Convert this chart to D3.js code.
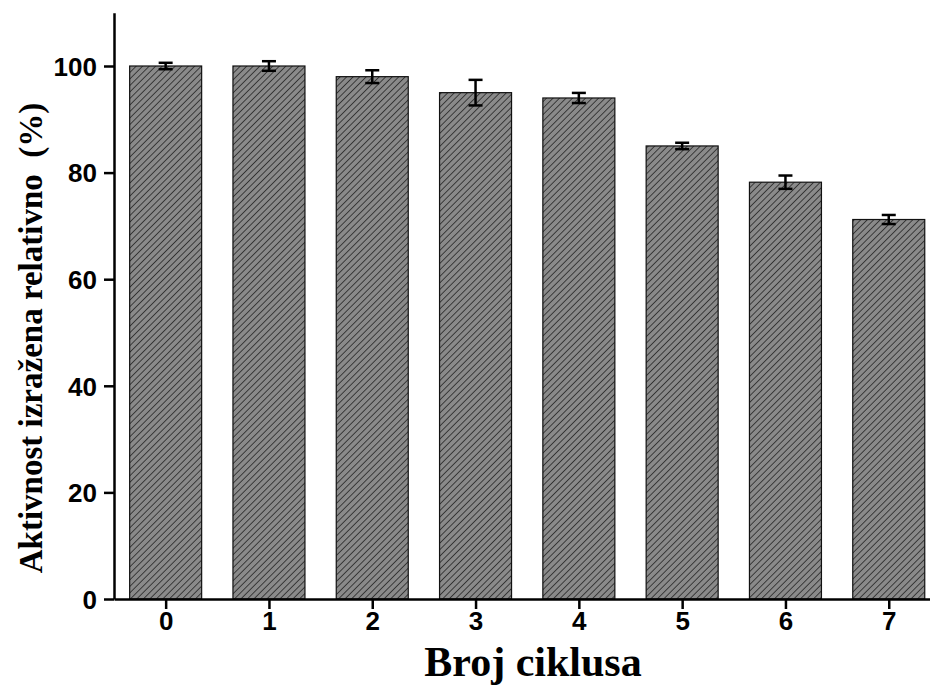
<!DOCTYPE html>
<html>
<head>
<meta charset="utf-8">
<script src="https://cdn.jsdelivr.net/npm/d3@7"></script>
<style>
  html, body { margin: 0; padding: 0; background: #fff; overflow: hidden; }
  svg { display: block; }
</style>
</head>
<body>
<svg id="chart" width="930" height="687"></svg>
<script>
// Relative activity over repeated cycles
const cycles = [0, 1, 2, 3, 4, 5, 6, 7];
const activity = [100, 100, 98, 95, 94, 85, 78.2, 71.2];
const errors = [0.6, 0.9, 1.2, 2.4, 0.95, 0.6, 1.25, 0.85];
const yTicks = [0, 20, 40, 60, 80, 100];

const svg = d3.select("#chart");
const x0 = 114, y0 = 599, yTop = 12.7;

const x = d3.scaleLinear().domain([-0.5, 7.5]).range([x0, x0 + 8 * 103.3]);
const y = d3.scaleLinear().domain([0, 110]).range([y0, yTop]);
const barW = 72;

// diagonal hatch fill
const defs = svg.append("defs");
const pat = defs.append("pattern")
  .attr("id", "hatch")
  .attr("patternUnits", "userSpaceOnUse")
  .attr("width", 4.6).attr("height", 4.6)
  .attr("patternTransform", "rotate(45)");
pat.append("rect").attr("width", 4.6).attr("height", 4.6).attr("fill", "#8a8a8a");
pat.append("line").attr("x1", 0).attr("y1", 0).attr("x2", 0).attr("y2", 4.6)
  .attr("stroke", "#262626").attr("stroke-width", 1.6);

const data = cycles.map((c, i) => ({ c, v: activity[i], e: errors[i] }));

// bars
svg.append("g").selectAll("rect").data(data).join("rect")
  .attr("x", d => x(d.c) - barW / 2)
  .attr("y", d => y(d.v))
  .attr("width", barW)
  .attr("height", d => y(0) - y(d.v))
  .attr("fill", "url(#hatch)")
  .attr("stroke", "#111")
  .attr("stroke-width", 1.2);

// error bars
const eb = svg.append("g").attr("stroke", "#000").attr("stroke-width", 2.5);
eb.selectAll("line.v").data(data).join("line").attr("class", "v")
  .attr("x1", d => x(d.c)).attr("x2", d => x(d.c))
  .attr("y1", d => y(d.v + d.e)).attr("y2", d => y(d.v - d.e));
eb.selectAll("line.t").data(data).join("line").attr("class", "t")
  .attr("x1", d => x(d.c) - 7).attr("x2", d => x(d.c) + 7)
  .attr("y1", d => y(d.v + d.e)).attr("y2", d => y(d.v + d.e));
eb.selectAll("line.b").data(data).join("line").attr("class", "b")
  .attr("x1", d => x(d.c) - 7).attr("x2", d => x(d.c) + 7)
  .attr("y1", d => y(d.v - d.e)).attr("y2", d => y(d.v - d.e));

// axes
const xAxis = d3.axisBottom(x).tickValues(cycles).tickFormat(d3.format("d"))
  .tickSizeInner(10).tickSizeOuter(0).tickPadding(3);
const yAxis = d3.axisLeft(y).tickValues(yTicks)
  .tickSizeInner(10).tickSizeOuter(0).tickPadding(7);

const gx = svg.append("g").attr("transform", `translate(0,${y0})`).call(xAxis);
const gy = svg.append("g").attr("transform", `translate(${x0},0)`).call(yAxis);

[gx, gy].forEach(g => {
  g.attr("font-size", null).attr("font-family", null);
  g.select(".domain").attr("stroke", "#000").attr("stroke-width", 2.5);
  g.selectAll(".tick line").attr("stroke", "#000").attr("stroke-width", 2.5);
  g.selectAll(".tick text")
    .attr("fill", "#000")
    .style("font-family", "'Liberation Sans', Arial, sans-serif")
    .style("font-weight", "bold")
    .style("font-size", "26px");
});
gx.selectAll(".tick text").attr("dy", "0.71em");
gy.selectAll(".tick text").attr("dy", "0.36em");

// axis titles
svg.append("text")
  .attr("x", 533).attr("y", 676)
  .attr("text-anchor", "middle")
  .style("font-family", "'Liberation Serif', 'Times New Roman', serif")
  .style("font-weight", "bold")
  .style("font-size", "42px")
  .text("Broj ciklusa");

svg.append("text")
  .attr("transform", "translate(42,338) rotate(-90)")
  .attr("text-anchor", "middle")
  .style("font-family", "'Liberation Serif', 'Times New Roman', serif")
  .style("font-weight", "bold")
  .style("font-size", "33px")
  .style("white-space", "pre")
  .text("Aktivnost izražena relativno  (%)");
</script>
</body>
</html>
